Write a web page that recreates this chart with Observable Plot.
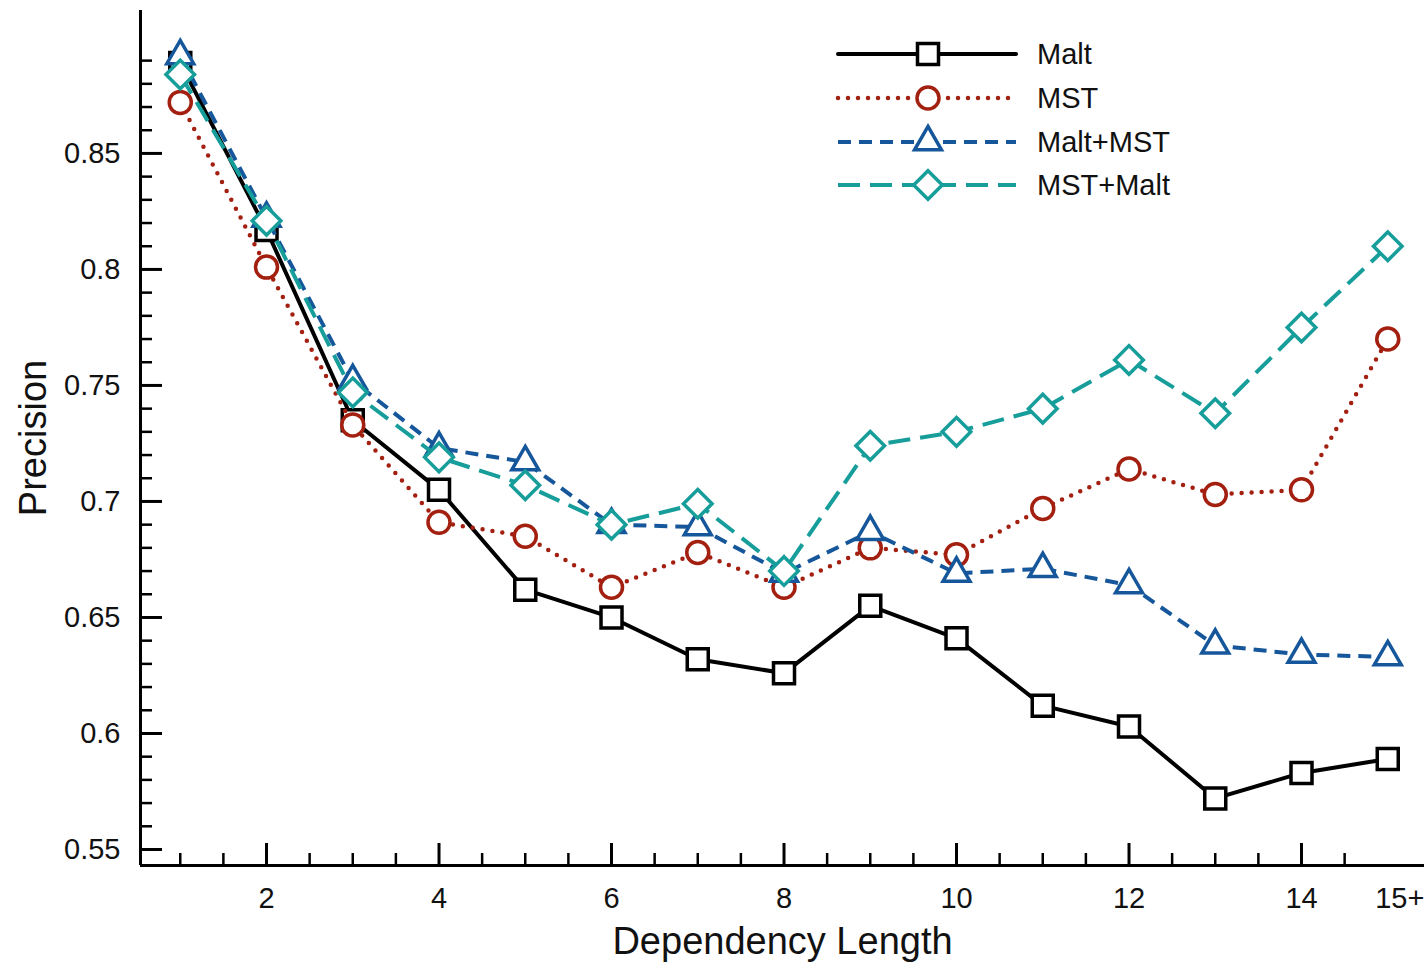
<!DOCTYPE html>
<html><head><meta charset="utf-8">
<script src="https://cdn.jsdelivr.net/npm/d3@7"></script>
<script src="https://cdn.jsdelivr.net/npm/@observablehq/plot@0.6"></script>
<style>
body{margin:0;background:#fff}
#wrap{position:relative;width:1424px;height:964px;overflow:hidden}
#wrap svg{position:absolute;left:0;top:0}
</style>
</head><body><div id="wrap"></div>
<script>
// ---- data ----
const lengths = [1,2,3,4,5,6,7,8,9,10,11,12,13,14,15];
const malt    = [0.889,0.817,0.735,0.705,0.662,0.650,0.632,0.626,0.655,0.641,0.612,0.603,0.572,0.583,0.589];
const mst     = [0.872,0.801,0.733,0.691,0.685,0.663,0.678,0.663,0.680,0.677,0.697,0.714,0.703,0.705,0.770];
const maltMst = [0.892,0.822,0.752,0.723,0.717,0.690,0.689,0.669,0.687,0.669,0.671,0.664,0.638,0.634,0.633];
const mstMalt = [0.884,0.821,0.747,0.719,0.707,0.690,0.699,0.670,0.724,0.730,0.740,0.761,0.738,0.775,0.810];
const seriesNames = ["Malt","MST","Malt+MST","MST+Malt"];
const xTickValues = [2,4,6,8,10,12,14,15];
const xTickLabels = ["2","4","6","8","10","12","14","15+"];
const yTickValues = [0.55,0.6,0.65,0.7,0.75,0.8,0.85];
const yTickLabels = ["0.55","0.6","0.65","0.7","0.75","0.8","0.85"];
const xLabel = "Dependency Length";
const yLabel = "Precision";

// ---- styles ----
const FONT = "'Liberation Sans', Arial, Helvetica, sans-serif";
const symSquare = {draw(c,s){const r=Math.sqrt(s/Math.PI); c.moveTo(-r,-r); c.lineTo(r,-r); c.lineTo(r,r); c.lineTo(-r,r); c.closePath();}};
const symCircle = {draw(c,s){const r=Math.sqrt(s/Math.PI); c.moveTo(r,0); c.arc(0,0,r,0,2*Math.PI);}};
const symTriangle = {draw(c,s){const r=Math.sqrt(s/Math.PI)*1.35; c.moveTo(0,-r); c.lineTo(r*0.866,r*0.5); c.lineTo(-r*0.866,r*0.5); c.closePath();}};
const symDiamond = {draw(c,s){const r=Math.sqrt(s/Math.PI)*1.3; c.moveTo(0,-r); c.lineTo(r,0); c.lineTo(0,r); c.lineTo(-r,0); c.closePath();}};

const seriesValues = [malt, mst, maltMst, mstMalt];
const seriesStyle = [
  {color:"#000000", dash:null,    lw:4,   cap:"round", sym:symSquare,   r:10.5},
  {color:"#a31f10", dash:"0 10",  lw:4.5, cap:"round", sym:symCircle,   r:11},
  {color:"#15579a", dash:"13 8",  lw:4,   cap:"butt",  sym:symTriangle, r:11.5},
  {color:"#179e9b", dash:"22 10", lw:4,   cap:"butt",  sym:symDiamond,  r:11}
];
const markerStroke = 3.5;

const xDomain = [0.539, 15.426];
const yDomain = [0.5431, 0.9116];
const yMinor = d3.range(55, 90).map(v => v/100).filter(v => !yTickValues.some(t => Math.abs(t-v) < 1e-9));
const xMinor = d3.range(2, 30).map(v => v/2).filter(v => !xTickValues.slice(0,7).includes(v));
const lastX = xTickValues.length - 1;

const marks = [
  Plot.ruleX([xDomain[0]], {stroke:"#000", strokeWidth:3}),
  Plot.ruleY([yDomain[0]], {stroke:"#000", strokeWidth:3}),
  Plot.axisY(yTickValues, {tickSize:-22, tickFormat:()=>"", strokeWidth:3, stroke:"#000", label:null}),
  Plot.axisY(yMinor, {tickSize:-12, tickFormat:()=>"", strokeWidth:2.5, stroke:"#000", label:null}),
  Plot.axisY(yTickValues, {tickSize:0, tickPadding:20, tickFormat:d=>yTickLabels[yTickValues.indexOf(d)], fontSize:29, fill:"#111", label:null}),
  Plot.axisX(xTickValues.slice(0,lastX), {tickSize:-22, tickFormat:()=>"", strokeWidth:3, stroke:"#000", label:null}),
  Plot.axisX(xMinor, {tickSize:-12, tickFormat:()=>"", strokeWidth:2.5, stroke:"#000", label:null}),
  Plot.axisX(xTickValues.slice(0,lastX), {tickSize:0, tickPadding:22, tickFormat:d=>xTickLabels[xTickValues.indexOf(d)], fontSize:29, fill:"#111", label:null}),
  Plot.axisX(xTickValues.slice(lastX), {tickSize:0, tickPadding:22, dx:12, tickFormat:d=>xTickLabels[xTickValues.indexOf(d)], fontSize:29, fill:"#111", label:null}),
  Plot.text([xLabel], {text:d=>d, frameAnchor:"bottom", lineAnchor:"middle", textAnchor:"middle", dy:76, fontSize:38, fill:"#111"}),
  Plot.text([yLabel], {text:d=>d, frameAnchor:"left", lineAnchor:"middle", textAnchor:"middle", dx:-107, rotate:-90, fontSize:38, fill:"#111"})
];

seriesValues.forEach((vals, k) => {
  const s = seriesStyle[k];
  const data = lengths.map((x, i) => ({x, y: vals[i], series: seriesNames[k]}));
  marks.push(Plot.line(data, {x:"x", y:"y", stroke:s.color, strokeWidth:s.lw, strokeDasharray:s.dash, strokeLinecap:s.cap, strokeLinejoin:"round"}));
  marks.push(Plot.dot(data, {x:"x", y:"y", symbol:s.sym, r:s.r, stroke:s.color, strokeWidth:markerStroke, fill:"white"}));
});

const chart = Plot.plot({
  width: 1424, height: 964,
  marginTop: 10, marginBottom: 99, marginLeft: 140, marginRight: 0,
  style: {fontFamily: FONT, background: "white", overflow: "visible"},
  x: {domain: xDomain, label: null},
  y: {domain: yDomain, label: null},
  marks
});
const wrap = document.getElementById("wrap");
wrap.appendChild(chart);

// ---- legend overlay ----
const legendRowsY = [54, 98, 142, 185];
const leg = d3.select(wrap).append("svg")
  .attr("width", 1424).attr("height", 964)
  .style("pointer-events", "none")
  .attr("font-family", FONT);
seriesNames.forEach((name, k) => {
  const s = seriesStyle[k];
  const y = legendRowsY[k];
  const g = leg.append("g");
  g.append("line").attr("x1", 838).attr("x2", 1016).attr("y1", y).attr("y2", y)
    .attr("stroke", s.color).attr("stroke-width", s.lw)
    .attr("stroke-dasharray", s.dash).attr("stroke-linecap", s.cap);
  g.append("path").attr("transform", `translate(928,${y})`)
    .attr("d", d3.symbol().type(s.sym).size(Math.PI * s.r * s.r)())
    .attr("fill", "white").attr("stroke", s.color).attr("stroke-width", markerStroke);
  g.append("text").attr("x", 1037).attr("y", y).attr("dy", "0.36em")
    .attr("font-size", 29).attr("fill", "#111").text(name);
});
</script>
</body></html>
